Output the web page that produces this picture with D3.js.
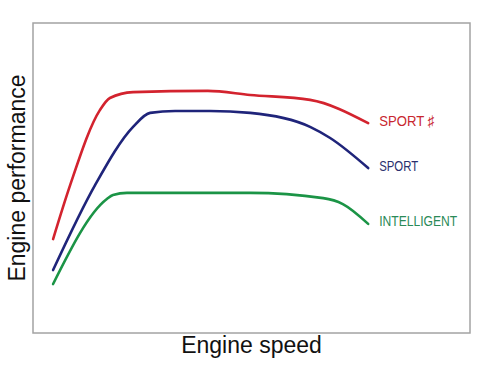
<!DOCTYPE html>
<html><head><meta charset="utf-8">
<script src="https://cdn.jsdelivr.net/npm/d3@7/dist/d3.min.js"></script>
<style>html,body{margin:0;padding:0;background:#fff;}svg{display:block;}</style>
</head><body>
<script>
// Data (arbitrary units: engine speed 0-100, performance 0-100)
const seriesNames = ["SPORT \u266F", "SPORT", "INTELLIGENT"];
const seriesColors = ["#d3232e", "#1f247a", "#1b9446"];
const labelColors = ["#c8262e", "#2a2f6e", "#2b8a58"];
const sportSharpX = [4.6, 8.5, 15.3, 17.6, 22.9, 40.0, 49.7, 63.4, 76.7];
const sportSharpY = [30.3, 47.7, 71.9, 75.8, 77.7, 78.1, 76.8, 75.2, 67.7];
const sportX = [4.6, 14.2, 22.9, 26.8, 32.5, 40.5, 49.7, 63.4, 68.0, 76.7];
const sportY = [20.3, 47.7, 66.5, 71.0, 71.6, 71.6, 71.0, 66.5, 62.9, 53.2];
const intelX = [4.6, 16.9, 18.3, 21.5, 49.7, 66.4, 70.9, 76.7];
const intelY = [15.8, 43.2, 44.5, 45.2, 45.2, 43.5, 41.6, 35.2];
const xLabel = "Engine speed";
const yLabel = "Engine performance";

const W = 500, H = 369;
const m = {left: 33, right: 30, top: 23, bottom: 36};
const svg = d3.select("body").append("svg").attr("width", W).attr("height", H);

const x = d3.scaleLinear().domain([0, 100]).range([m.left, W - m.right]);
const y = d3.scaleLinear().domain([0, 100]).range([H - m.bottom, m.top]);

svg.append("rect")
  .attr("x", x(0)).attr("y", y(100))
  .attr("width", x(100) - x(0)).attr("height", y(0) - y(100))
  .attr("fill", "none").attr("stroke", "#a3a3a3").attr("stroke-width", 1.5);

const series = [
  {xs: sportSharpX, ys: sportSharpY},
  {xs: sportX, ys: sportY},
  {xs: intelX, ys: intelY}
];
const labelWidths = [55, 39, 78];

const line = d3.line().x(d => x(d[0])).y(d => y(d[1])).curve(d3.curveMonotoneX);

series.forEach((s, i) => {
  const pts = s.xs.map((v, j) => [v, s.ys[j]]);
  svg.append("path").datum(pts)
    .attr("d", line)
    .attr("fill", "none")
    .attr("stroke", seriesColors[i])
    .attr("stroke-width", 2.6)
    .attr("stroke-linecap", "round")
    .attr("stroke-linejoin", "round");
  const last = pts[pts.length - 1];
  svg.append("text")
    .attr("x", x(last[0]) + 11)
    .attr("y", y(last[1]) + 2.5)
    .attr("font-family", "Liberation Sans Narrow, Arial, sans-serif")
    .attr("font-size", 15)
    .attr("textLength", labelWidths[i])
    .attr("lengthAdjust", "spacingAndGlyphs")
    .attr("fill", labelColors[i])
    .text(seriesNames[i]);
});

svg.append("text")
  .attr("x", (x(0) + x(100)) / 2)
  .attr("y", 353)
  .attr("text-anchor", "middle")
  .attr("font-family", "Liberation Sans, Arial, sans-serif")
  .attr("font-size", 23)
  .attr("fill", "#111")
  .text(xLabel);

svg.append("text")
  .attr("transform", `translate(25,${(y(0) + y(100)) / 2}) rotate(-90)`)
  .attr("text-anchor", "middle")
  .attr("font-family", "Liberation Sans, Arial, sans-serif")
  .attr("font-size", 23)
  .attr("fill", "#111")
  .text(yLabel);
</script>
</body></html>
